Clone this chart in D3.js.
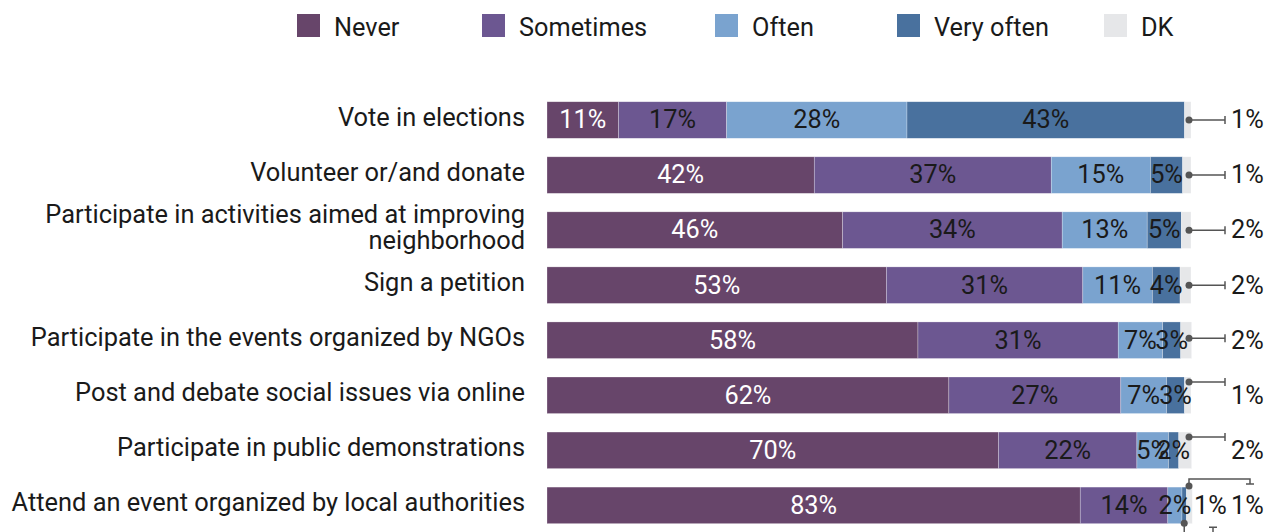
<!DOCTYPE html>
<html>
<head>
<meta charset="utf-8">
<script src="https://cdn.jsdelivr.net/npm/d3@7"></script>
<style>
  html, body { margin: 0; padding: 0; background: #fff; }
  svg { display: block; font-family: Roboto, "Noto Sans", sans-serif; }
</style>
</head>
<body>
<svg id="chart" width="1283" height="532"></svg>
<script>
// Civic participation frequency, share of respondents (%)
const categories = [
  "Vote in elections",
  "Volunteer or/and donate",
  "Participate in activities aimed at improving neighborhood",
  "Sign a petition",
  "Participate in the events organized by NGOs",
  "Post and debate social issues via online",
  "Participate in public demonstrations",
  "Attend an event organized by local authorities"
];
const seriesNames = ["Never", "Sometimes", "Often", "Very often", "DK"];
const never     = [11.1, 41.5, 45.9, 52.7, 57.6, 62.4, 70.1, 82.8];
const sometimes = [16.8, 36.8, 34.1, 30.5, 31.1, 26.7, 21.5, 13.6];
const often     = [28.0, 15.4, 13.2, 10.8, 6.9, 7.1, 4.9, 2.2];
const veryOften = [43.1, 5.0, 5.3, 4.3, 2.8, 2.8, 1.6, 0.7];
const dk        = [1.0, 1.3, 1.5, 1.7, 1.7, 1.0, 2.0, 0.9];

const colors = ["#67456a", "#6c5791", "#7aa3cf", "#49719e", "#e6e7e9"];
const textColors = ["#ffffff", "#1a1a1a", "#1a1a1a", "#1a1a1a", "#1a1a1a"];

const rows = categories.map((c, i) => ({
  category: c,
  "Never": never[i],
  "Sometimes": sometimes[i],
  "Often": often[i],
  "Very often": veryOften[i],
  "DK": dk[i]
}));

const svg = d3.select("#chart");
const ink = "#1a1a1a";
const lineColor = "#555555";

const x = d3.scaleLinear().domain([0, 100]).range([547, 1191]);
const y = d3.scaleBand().domain(categories).range([92.5, 532.9]).paddingInner(0.336).paddingOuter(0.168);

const stack = d3.stack().keys(seriesNames);
const layers = stack(rows);

// Stacked bars
const layerG = svg.append("g").selectAll("g")
  .data(layers)
  .join("g")
  .attr("fill", (d, i) => colors[i]);

layerG.selectAll("rect")
  .data(d => d.map(p => ({ p, key: d.key })))
  .join("rect")
  .attr("x", d => x(d.p[0]))
  .attr("y", d => y(d.p.data.category))
  .attr("width", d => x(d.p[1]) - x(d.p[0]))
  .attr("height", y.bandwidth())
  .attr("stroke", "#ffffff")
  .attr("stroke-width", 0.6)
  .attr("stroke-opacity", 0.45);

// In-bar value labels (DK, and the tiny last "Very often" value, go outside)
const fs = 25.3;
layers.forEach((layer, li) => {
  if (layer.key === "DK") return;
  svg.append("g").selectAll("text")
    .data(layer.filter((p, ri) => !(layer.key === "Very often" && ri === categories.length - 1)))
    .join("text")
    .attr("x", p => (x(p[0]) + x(p[1])) / 2)
    .attr("y", p => y(p.data.category) + y.bandwidth() / 2)
    .attr("dy", "0.33em")
    .attr("text-anchor", "middle")
    .attr("font-size", fs)
    .attr("fill", textColors[li])
    .text(p => Math.round(p[1] - p[0]) + "%");
});

// Category labels (wrapped when too long)
const labelG = svg.append("g");
categories.forEach(c => {
  const cy = y(c) + y.bandwidth() / 2;
  const lines = c.length > 48
    ? ["Participate in activities aimed at improving", "neighborhood"]
    : [c];
  const t = labelG.append("text")
    .attr("x", 525)
    .attr("text-anchor", "end")
    .attr("font-size", 25.4)
    .attr("fill", ink);
  const lh = 26;
  lines.forEach((ln, k) => {
    t.append("tspan")
      .attr("x", 525)
      .attr("y", cy + 5.5 + (k - (lines.length - 1) / 2) * lh)
      .text(ln);
  });
});

// Callouts for the values outside the bars
const ann = svg.append("g")
  .attr("stroke", lineColor)
  .attr("stroke-width", 1.5)
  .attr("fill", "none");
const dots = svg.append("g").attr("fill", lineColor);
const outLabels = svg.append("g");
const cap = 4;
const dkX = x(100) - 2;
const labelX = 1231;

layers[4].forEach((p, ri) => {
  const c = categories[ri];
  const top = y(c), bot = top + y.bandwidth(), cy = top + y.bandwidth() / 2;
  const last = ri === categories.length - 1;
  const txt = Math.round(p[1] - p[0]) + "%";
  if (!last) {
    const ly = ri >= 5 ? top + 5 : (ri === 4 ? cy - 2 : cy);
    const ex = 1225;
    ann.append("path").attr("d", `M${dkX},${ly}H${ex}M${ex},${ly - cap}V${ly + cap}`);
    dots.append("circle").attr("cx", dkX).attr("cy", ly).attr("r", 3.5);
    outLabels.append("text")
      .attr("x", labelX).attr("y", cy).attr("dy", "0.33em")
      .attr("font-size", fs).attr("fill", ink).text(txt);
  } else {
    // DK: elbow above the bar
    const ey = top - 8, ex = 1250;
    ann.append("path").attr("d", `M${dkX},${top - 1}V${ey}H${ex}V${ey + 5}M${ex - cap},${ey + 5}H${ex + cap}`);
    dots.append("circle").attr("cx", dkX).attr("cy", top - 1).attr("r", 3.5);
    outLabels.append("text")
      .attr("x", labelX).attr("y", cy).attr("dy", "0.33em")
      .attr("font-size", fs).attr("fill", ink).text(txt);

    // Very often: elbow below the bar
    const vo = layers[3][ri];
    const vx = (x(vo[0]) + x(vo[1])) / 2;
    const by = bot + 14, bx = 1213;
    ann.append("path").attr("d", `M${vx},${bot}V${by}H${bx}V${bot + 3.5}M${bx - cap},${bot + 3.5}H${bx + cap}`);
    dots.append("circle").attr("cx", vx).attr("cy", bot - 0.5).attr("r", 3.5);
    outLabels.append("text")
      .attr("x", 1194).attr("y", cy).attr("dy", "0.33em")
      .attr("font-size", fs).attr("fill", ink)
      .text(Math.round(vo[1] - vo[0]) + "%");
  }
});

// Legend
const legendX = [297, 482, 715, 897, 1104];
const legend = svg.append("g").selectAll("g")
  .data(seriesNames)
  .join("g")
  .attr("transform", (d, i) => `translate(${legendX[i]},14)`);
legend.append("rect")
  .attr("width", 23).attr("height", 23)
  .attr("fill", (d, i) => colors[i]);
legend.append("text")
  .attr("x", 37).attr("y", 21.5)
  .attr("font-size", 25.3)
  .attr("fill", ink)
  .text(d => d);
</script>
</body>
</html>
